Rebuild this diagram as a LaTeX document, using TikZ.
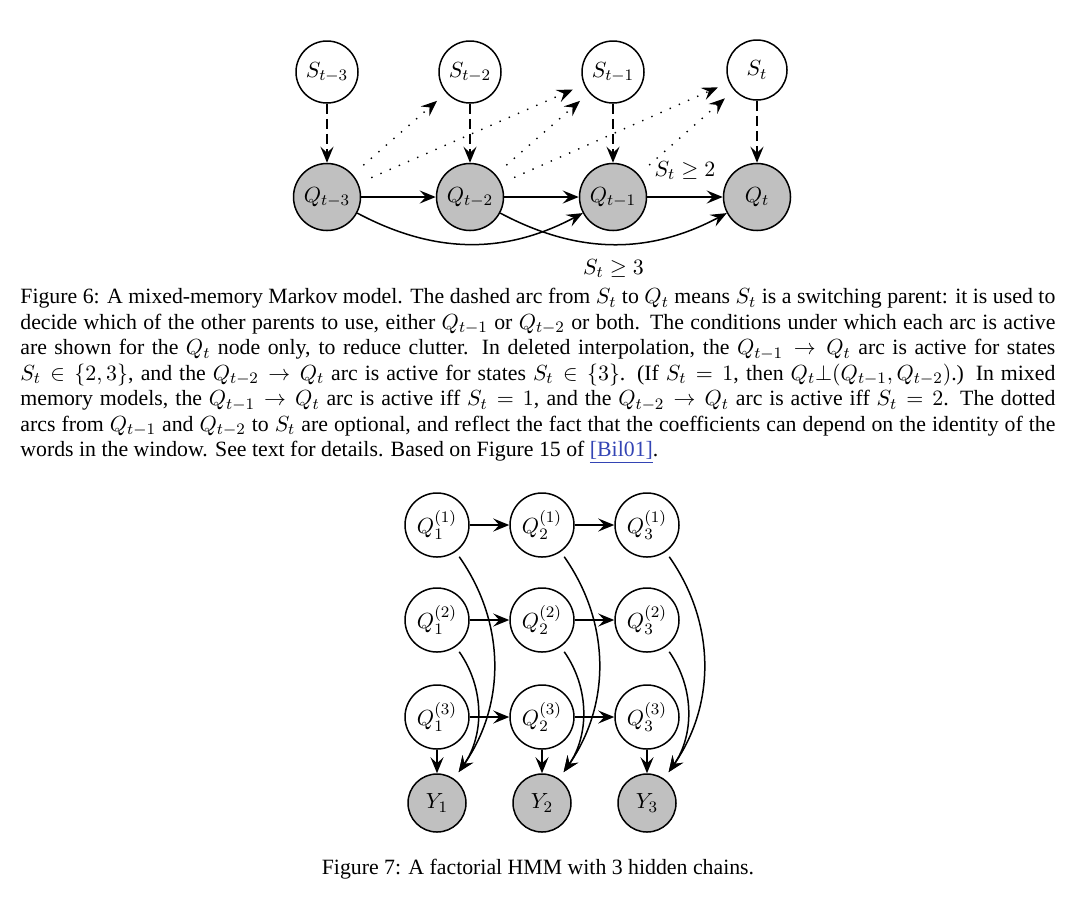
\documentclass[tikz,border=0pt]{standalone}
\usepackage{amsmath}
\usepackage{amssymb}
\usepackage[no-math]{fontspec}
\setmainfont{Liberation Serif}
\usetikzlibrary{arrows.meta}
\definecolor{hmmgray}{HTML}{C0C0C0}
\definecolor{hmmlink}{HTML}{3344B4}

\begin{document}
\begin{tikzpicture}[x=0.5pt,y=-0.5pt,
  font=\fontsize{10.9}{12.75}\selectfont,
  >={Stealth[length=8pt,width=6.5pt,inset=3pt]},
  var/.style={circle,draw,line width=0.75pt,inner sep=0pt},
  obs/.style={var,fill=hmmgray},
  arc/.style={->,line width=0.75pt},
  swarc/.style={arc,dash pattern=on 5pt off 2.5pt},
  optarc/.style={->,line width=0.7pt,dash pattern=on 0.7pt off 4.3pt,shorten <=7pt,shorten >=6pt},
  capt/.style={inner sep=0pt}]
  \useasboundingbox (0,0) rectangle (1080,912);
  % mixed-memory Markov model
  \node[var,minimum size=31pt] (s3) at (327,72) {$S_{t-3}$};
  \node[var,minimum size=31pt] (s2) at (470,72) {$S_{t-2}$};
  \node[var,minimum size=31pt] (s1) at (613,72) {$S_{t-1}$};
  \node[var,minimum size=30pt] (s0) at (757,70) {$S_t$};
  \node[obs,minimum size=33.5pt] (q3) at (327,197) {$Q_{t-3}$};
  \node[obs,minimum size=33.5pt] (q2) at (470,197) {$Q_{t-2}$};
  \node[obs,minimum size=33.5pt] (q1) at (613,197) {$Q_{t-1}$};
  \node[obs,minimum size=33.5pt] (q0) at (757,197) {$Q_t$};
  \draw[swarc] (s3) -- (q3);
  \draw[swarc] (s2) -- (q2);
  \draw[swarc] (s1) -- (q1);
  \draw[swarc] (s0) -- (q0);
  \draw[arc] (q3) -- (q2);
  \draw[arc] (q2) -- (q1);
  \draw[arc] (q1) -- node[above=5pt] (lab2) {$S_t\geq 2$} (q0);
  \draw[arc] (q3) to[bend right=28] (q1);
  \draw[arc] (q2) to[bend right=28] node[below=4pt] (lab3) {$S_t\geq 3$} (q0);
  \draw[optarc] (q3) -- (s2);
  \draw[optarc] (q3) -- (s1);
  \draw[optarc] (q2) -- (s1);
  \draw[optarc] (q2) -- (s0);
  \draw[optarc] (q1) -- (s0);
  \node[capt,anchor=north west,text width=517.5pt,align=justify] (cap6) at (20,288) {Figure 6: A mixed-memory Markov model. The dashed arc from $S_t$ to $Q_t$ means $S_t$ is a switching parent: it is used to\linebreak
    decide which of the other parents to use, either $Q_{t-1}$ or $Q_{t-2}$ or both. The conditions under which each arc is active\linebreak
    are shown for the $Q_t$ node only, to reduce clutter. In deleted interpolation, the $Q_{t-1}\rightarrow Q_t$ arc is active for states\linebreak
    $S_t\in\{2,3\}$, and the $Q_{t-2}\rightarrow Q_t$ arc is active for states $S_t\in\{3\}$. (If $S_t=1$, then $Q_t\bot(Q_{t-1},Q_{t-2})$.) In mixed\linebreak
    memory models, the $Q_{t-1}\rightarrow Q_t$ arc is active iff $S_t=1$, and the $Q_{t-2}\rightarrow Q_t$ arc is active iff $S_t=2$. The dotted\linebreak
    arcs from $Q_{t-1}$ and $Q_{t-2}$ to $S_t$ are optional, and reflect the fact that the coefficients can depend on the identity of the\linebreak
    words in the window. See text for details. Based on Figure 15 of {\color{hmmlink}\underline{[Bil01]}}.};
  % factorial HMM
  \node[var,minimum size=32pt] (q11) at (437,525) {$Q_1^{(1)}$};
  \node[var,minimum size=32pt] (q21) at (542,525) {$Q_2^{(1)}$};
  \node[var,minimum size=32pt] (q31) at (647,525) {$Q_3^{(1)}$};
  \node[var,minimum size=32pt] (q12) at (437,620) {$Q_1^{(2)}$};
  \node[var,minimum size=32pt] (q22) at (542,620) {$Q_2^{(2)}$};
  \node[var,minimum size=32pt] (q32) at (647,620) {$Q_3^{(2)}$};
  \node[var,minimum size=32pt] (q13) at (437,717) {$Q_1^{(3)}$};
  \node[var,minimum size=32pt] (q23) at (542,717) {$Q_2^{(3)}$};
  \node[var,minimum size=32pt] (q33) at (647,717) {$Q_3^{(3)}$};
  \node[obs,minimum size=29pt] (y1) at (437,803) {$Y_1$};
  \node[obs,minimum size=29pt] (y2) at (542,803) {$Y_2$};
  \node[obs,minimum size=29pt] (y3) at (647,803) {$Y_3$};
  \foreach \c in {1,2,3} {
    \draw[arc] (q1\c) -- (q2\c);
    \draw[arc] (q2\c) -- (q3\c);
  }
  \foreach \t in {1,2,3} {
    \draw[arc] (q\t3) -- (y\t);
    \draw[arc,shorten <=3pt,shorten >=4pt] (q\t1) to[out=-55,in=55] (y\t);
    \draw[arc,shorten <=3pt,shorten >=4pt] (q\t2) to[out=-55,in=55] (y\t);
  }
  \node[capt,anchor=base] (cap7) at (538,874) {Figure 7: A factorial HMM with 3 hidden chains.};
\end{tikzpicture}
\end{document}
